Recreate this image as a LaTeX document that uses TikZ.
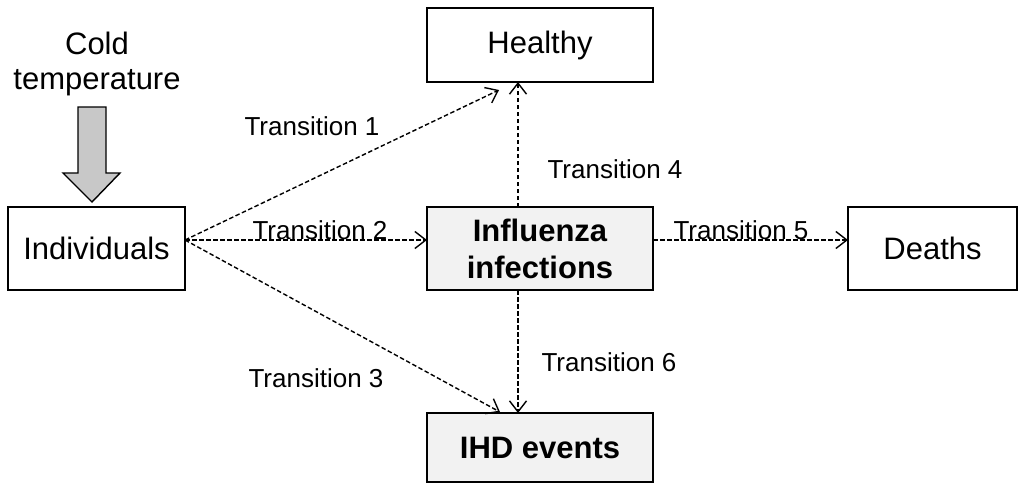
\documentclass[tikz,border=0pt]{standalone}
\usepackage{fontspec}
\setmainfont{Liberation Sans}
\usetikzlibrary{arrows.meta}
\definecolor{boxgray}{RGB}{242,242,242}
\definecolor{arrgray}{RGB}{200,200,200}
\tikzset{
  box/.style={draw=black, line width=1.9pt, inner sep=0pt, outer sep=0pt, align=center, font=\fontsize{31}{37}\selectfont},
  graybox/.style={box, fill=boxgray, font=\fontsize{31}{37}\selectfont\bfseries},
  trans/.style={draw=black, line width=1.4pt, dash pattern=on 4.5pt off 2.5pt, -{Straight Barb[length=11pt,width=17pt,line width=1.4pt]}},
  lbl/.style={inner sep=0pt, font=\fontsize{26}{30}\selectfont}
}
\begin{document}
\begin{tikzpicture}[x=1pt,y=-1pt]
\useasboundingbox (0,0) rectangle (1024,490);
\node[box, minimum width=177pt, minimum height=83pt] (ind) at (96.5,248.5) {Individuals};
\node[box, minimum width=226pt, minimum height=74pt] (healthy) at (540,45) {Healthy};
\node[graybox, minimum width=226pt, minimum height=83pt] (flu) at (540,248.5) {Influenza\\infections};
\node[graybox, minimum width=226pt, minimum height=69pt] (ihd) at (540,447.5) {IHD events};
\node[box, minimum width=169pt, minimum height=83pt] (deaths) at (932.5,248.5) {Deaths};
\node[inner sep=0pt, align=center, font=\fontsize{31}{35}\selectfont] (cold) at (97,64) {Cold\\temperature};
\draw[line width=1.4pt, fill=arrgray] (78,107) -- (106,107) -- (106,173) -- (120,173) -- (92,202) -- (63,173) -- (78,173) -- cycle;
\coordinate (src) at ([yshift=8.5pt]ind.east);
\coordinate (h1) at ([xshift=-41pt,yshift=-8pt]healthy.south);
\coordinate (i3) at ([xshift=-40pt,yshift=1pt]ihd.north);
\draw[trans] (src) -- (h1);
\draw[trans] (src) -- ([yshift=8.5pt]flu.west);
\draw[trans] (src) -- (i3);
\draw[trans] ([xshift=-22pt]flu.north) -- ([xshift=-22pt]healthy.south);
\draw[trans] ([yshift=8.5pt]flu.east) -- ([yshift=8.5pt]deaths.west);
\draw[trans] ([xshift=-22pt]flu.south) -- ([xshift=-22pt]ihd.north);
\node[lbl] (t1) at (312,126) {Transition 1};
\node[lbl] (t2) at (320,230) {Transition 2};
\node[lbl] (t3) at (316,378) {Transition 3};
\node[lbl] (t4) at (615,169) {Transition 4};
\node[lbl] (t5) at (741,230) {Transition 5};
\node[lbl] (t6) at (609,362) {Transition 6};
\end{tikzpicture}
\end{document}
